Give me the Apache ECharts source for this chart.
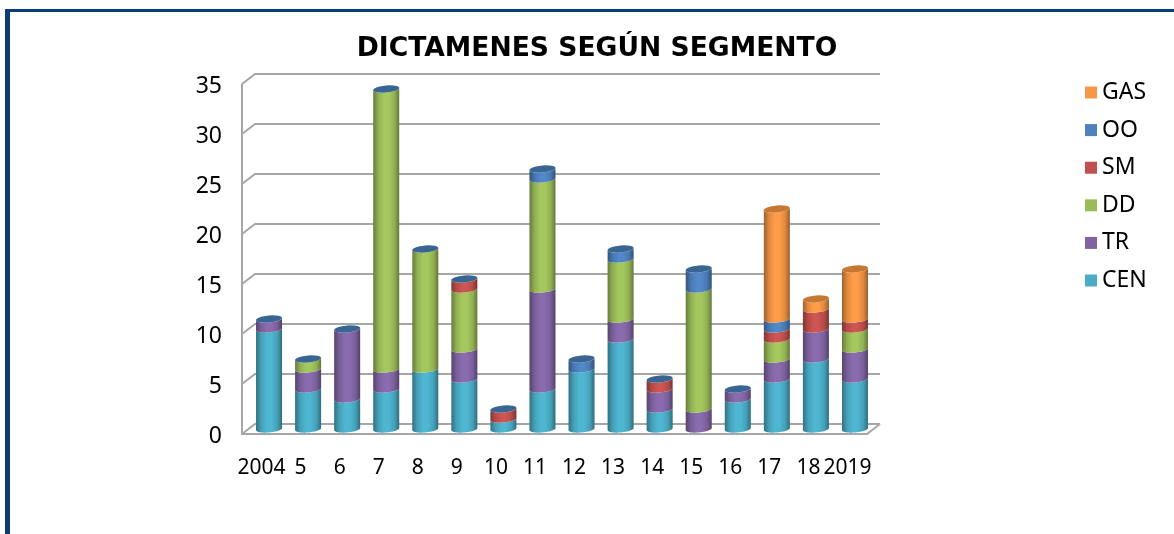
<!DOCTYPE html>
<html>
<head>
<meta charset="utf-8">
<style>html,body{margin:0;padding:0;background:#fff}#c{width:1174px;height:534px}</style>
<script src="https://cdn.jsdelivr.net/npm/echarts@6/dist/echarts.min.js"></script>
</head>
<body>
<div id="c"></div>
<script>
const categories = ['2004','5','6','7','8','9','10','11','12','13','14','15','16','17','18','2019'];
const CEN = [10,4,3,4,6,5,1,4,6,9,2,0,3,5,7,5];
const TR  = [1,2,7,2,0,3,0,10,0,2,2,2,1,2,3,3];
const DD  = [0,1,0,28,12,6,0,11,0,6,0,12,0,2,0,2];
const SM  = [0,0,0,0,0,1,1,0,0,0,1,0,0,1,2,1];
const OO  = [0,0,0,0,0,0,0,1,1,1,0,2,0,1,0,0];
const GAS = [0,0,0,0,0,0,0,0,0,0,0,0,0,11,1,5];
const yTicks = [0,5,10,15,20,25,30,35];
const legendOrder = ['GAS','OO','SM','DD','TR','CEN'];

const stackDefs = [
  {name:'CEN', values:CEN, color:'#4bacc6', body:'#4fb6d1', cap:'#3b8fa5'},
  {name:'TR',  values:TR,  color:'#8064a2', body:'#8a6cae', cap:'#664f82'},
  {name:'DD',  values:DD,  color:'#9bbb59', body:'#a5c85e', cap:'#7c9647'},
  {name:'SM',  values:SM,  color:'#c0504d', body:'#cd5552', cap:'#9a403e'},
  {name:'OO',  values:OO,  color:'#4f81bd', body:'#5288c8', cap:'#386592'},
  {name:'GAS', values:GAS, color:'#f79646', body:'#ff9c48', cap:'#c67832'}
];

const DEPTH_X = 6.5, DEPTH_Y = -5, BAR_SHIFT = 7.5, RY = 3.5, SHEAR = -0.08;

function shade(hex, f) {
  const n = parseInt(hex.slice(1), 16);
  const c = s => Math.min(255, Math.round(((n >> s) & 255) * f));
  return 'rgb(' + c(16) + ',' + c(8) + ',' + c(0) + ')';
}
function bodyFill(color) {
  return new echarts.graphic.LinearGradient(0, 0, 1, 0, [
    {offset:0, color:shade(color,0.62)},
    {offset:0.2, color:shade(color,0.88)},
    {offset:0.42, color:color},
    {offset:0.6, color:color},
    {offset:0.82, color:shade(color,0.88)},
    {offset:1, color:shade(color,0.6)}
  ]);
}
function arc(cx, cy, rx, from, to) {
  const pts = [];
  for (let i = 0; i <= 24; i++) {
    const t = from + (to - from) * i / 24;
    const dx = rx * Math.cos(t);
    pts.push([cx + dx, cy + RY * Math.sin(t) + SHEAR * dx]);
  }
  return pts;
}

const allStacks = categories.map((_, i) => {
  let acc = 0;
  return stackDefs.map(d => { const s = acc; acc += d.values[i]; return [s, acc]; });
});

function makeSeries(def, idx) {
  const data = categories.map((_, i) => {
    const [start, end] = allStacks[i][idx];
    const gasOnTop = GAS[i] > 0;
    const hasCap = (def.name === 'GAS' && gasOnTop) || (def.name === 'OO' && !gasOnTop);
    return [i, start, end, hasCap ? 1 : 0];
  });
  return {
    name: def.name,
    type: 'custom',
    coordinateSystem: 'cartesian2d',
    itemStyle: {color: def.color},
    encode: {x: 0, y: [1, 2]},
    z: 3 + idx,
    silent: true,
    data,
    renderItem(params, api) {
      const i = api.value(0), s = api.value(1), e = api.value(2), cap = api.value(3);
      const slot = api.size([1, 0])[0];
      const rx = slot * 0.333;
      const p0 = api.coord([i, s]), p1 = api.coord([i, e]);
      const cx = p0[0] + BAR_SHIFT;
      const y0 = p0[1] + DEPTH_Y, y1 = p1[1] + DEPTH_Y;
      const children = [];
      if (e > s) {
        const lower = arc(cx, y0, rx, Math.PI, 0);
        const upper = arc(cx, y1, rx, 0, Math.PI);
        children.push({type:'polygon', shape:{points: lower.concat(upper)},
          style:{fill: bodyFill(def.body)}});
      }
      if (cap) {
        children.push({type:'polygon', shape:{points: arc(cx, y1, rx, 0, Math.PI * 2)},
          style:{fill: def.cap}});
      }
      return {type:'group', children};
    }
  };
}

const wallSeries = {
  name: 'walls',
  type: 'custom',
  coordinateSystem: 'cartesian2d',
  z: 1,
  silent: true,
  encode: {y: 0},
  data: yTicks.map(v => [v]),
  renderItem(params, api) {
    const v = api.value(0);
    const slot = api.size([1, 0])[0];
    const left = api.coord([0, v]);
    const right = api.coord([categories.length - 1, v]);
    const x0 = left[0] - slot / 2, x1 = right[0] + slot / 2, y = left[1];
    const line = {stroke:'#a6a6a6', lineWidth:2, fill:'none'};
    const children = [
      {type:'polyline', shape:{points:[[x0,y],[x0+2*DEPTH_X,y+2*DEPTH_Y],[x1+2*DEPTH_X,y+2*DEPTH_Y]]}, style:line}
    ];
    if (v === 0) {
      const top = api.coord([0, yTicks[yTicks.length - 1]]);
      children.push({type:'polyline', shape:{points:[[x0,top[1]],[x0,y],[x1,y],[x1+2*DEPTH_X,y+2*DEPTH_Y]]}, style:line});
    }
    return {type:'group', children};
  }
};

const chart = echarts.init(document.getElementById('c'), null, {renderer:'canvas'});
chart.setOption({
  backgroundColor:'#fff',
  animation:false,
  title:{
    text:'DICTAMENES SEGÚN SEGMENTO',
    left:592, top:31, textAlign:'center',
    textStyle:{fontFamily:'DejaVu Sans', fontWeight:'bold', fontSize:26.6, color:'#000'}
  },
  legend:{
    data:legendOrder,
    orient:'vertical',
    left:1080, top:76,
    icon:'rect',
    itemWidth:12, itemHeight:12,
    itemGap:14.6,
    textStyle:{fontFamily:'Noto Sans', fontSize:23, color:'#000', padding:[3,0,0,0]},
    selectedMode:false
  },
  grid:{left:242, top:84, width:625, height:350},
  xAxis:{
    type:'category',
    data:categories,
    boundaryGap:true,
    axisLine:{show:false},
    axisTick:{show:false},
    splitLine:{show:false},
    axisLabel:{interval:0, margin:24, fontFamily:'Noto Sans', fontSize:21, color:'#000'}
  },
  yAxis:{
    type:'value', min:0, max:35, interval:5,
    axisLine:{show:false},
    axisTick:{show:false},
    splitLine:{show:false},
    axisLabel:{margin:20, fontFamily:'Noto Sans', fontSize:23, color:'#000', verticalAlign:'top', lineHeight:4}
  },
  graphic:[
    {type:'rect', shape:{x:5, y:9, width:1169, height:3}, style:{fill:'#0b3c74'}, z:100},
    {type:'rect', shape:{x:5, y:9, width:5, height:525}, style:{fill:'#0b3c74'}, z:100}
  ],
  series:[wallSeries].concat(stackDefs.map(makeSeries))
});
</script>
</body>
</html>
